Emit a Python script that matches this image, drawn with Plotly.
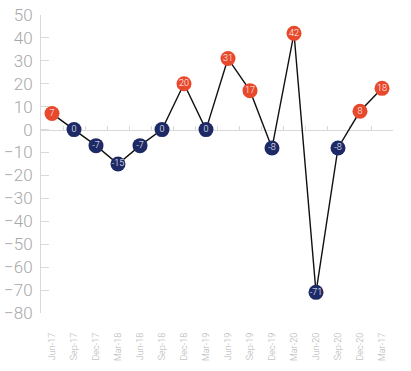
import plotly.graph_objects as go

categories = ["Jun-17", "Sep-17", "Dec-17", "Mar-18", "Jun-18", "Sep-18", "Dec-18", "Mar-19",
              "Jun-19", "Sep-19", "Dec-19", "Mar-20", "Jun-20", "Sep-20", "Dec-20", "Mar-17"]
values = [7, 0, -7, -15, -7, 0, 20, 0, 31, 17, -8, 42, -71, -8, 8, 18]
y_ticks = list(range(-80, 51, 10))

POS = "#E8492C"
NEG = "#1E2A66"
colors = [POS if v > 0 else NEG for v in values]

fig = go.Figure()
fig.add_trace(go.Scatter(
    x=categories, y=values, mode="lines+markers+text",
    line=dict(color="#111111", width=1.4),
    marker=dict(size=15, color=colors, line=dict(width=0)),
    text=[str(v) for v in values], textposition="middle center",
    textfont=dict(color="white", size=9, family="Roboto", weight=300),
    cliponaxis=False, hoverinfo="skip", showlegend=False,
))
# invisible trace for the zero-crossing category axis
fig.add_trace(go.Scatter(x=categories, y=values, xaxis="x2", mode="none",
                         showlegend=False, hoverinfo="skip"))

xr = [-0.5, len(categories) - 0.5]

fig.update_layout(
    width=411, height=371,
    margin=dict(l=41, r=18, t=15, b=58),
    paper_bgcolor="white", plot_bgcolor="white",
    xaxis=dict(type="category", range=xr, showgrid=False, showline=False, zeroline=False,
               ticks="", tickangle=-90, ticklabelstandoff=17, automargin=False,
               tickfont=dict(size=9, color="#b0b0b0", family="Roboto", weight=300)),
    xaxis2=dict(type="category", range=xr, overlaying="x", matches="x", anchor="free",
                position=80 / 130, side="bottom", showline=True, linecolor="#d9d9d9",
                linewidth=1, ticks="inside", tickson="boundaries", ticklen=4,
                tickcolor="#d9d9d9", showticklabels=False, showgrid=False, zeroline=False,
                layer="below traces"),
    yaxis=dict(range=[-80, 50], tickvals=y_ticks, showgrid=False, zeroline=False,
               showline=True, linecolor="#d9d9d9", linewidth=1, automargin=False,
               ticks="inside", ticklen=8, tickcolor="#d9d9d9", ticklabelstandoff=4,
               layer="below traces",
               tickfont=dict(size=17, color="#a8a8a8", family="Roboto", weight=300)),
)

fig.write_html("out.html", config={"displayModeBar": False},
               post_script="document.body.style.margin='0';")
